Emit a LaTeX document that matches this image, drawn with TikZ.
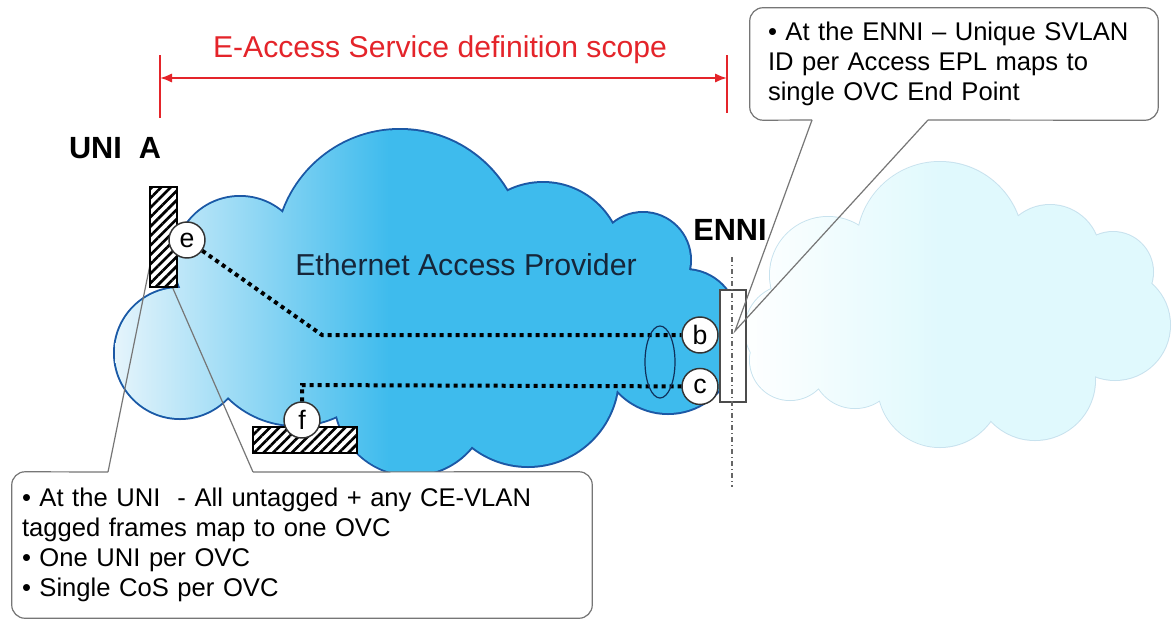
\documentclass[tikz,border=0pt]{standalone}
\usepackage{fontspec}
\setmainfont{Liberation Sans}
\usetikzlibrary{positioning,arrows.meta,patterns.meta}

\definecolor{cloudblue}{RGB}{62,187,237}
\definecolor{cloudpale}{RGB}{238,247,252}
\definecolor{cloudedge}{RGB}{28,88,165}
\definecolor{mistfill}{RGB}{224,249,253}
\definecolor{mistedge}{RGB}{200,226,238}
\definecolor{scopered}{RGB}{228,36,42}
\definecolor{notegray}{RGB}{118,118,118}
\definecolor{provtext}{RGB}{22,38,58}

\begin{document}
\begin{tikzpicture}[x=0.75pt, y=-0.75pt]
 \tikzstyle{port}=[circle, draw=black!80, line width=1.1pt, fill=white, minimum size=27pt, inner sep=0pt, font=\fontsize{20}{20}\selectfont]
 \tikzstyle{hatch}=[rectangle, draw=black, line width=0.9pt, inner sep=0pt, preaction={fill=white}, pattern={Lines[angle=45, distance=5pt, line width=2pt]}]
 \tikzstyle{enniport}=[rectangle, draw=black!70, line width=0.8pt, fill=white, inner sep=0pt, minimum width=19.5pt, minimum height=84pt]
 \tikzstyle{ovc}=[line width=3pt, dash pattern=on 3pt off 3pt, black]
 \tikzstyle{note}=[rectangle, rounded corners=10pt, fill=white, inner sep=0pt, align=left, font=\fontsize{19.2}{22.5}\selectfont]
 \tikzstyle{noteline}=[draw=notegray, line width=0.9pt]
 \tikzstyle{heading}=[font=\bfseries\fontsize{23}{23}\selectfont]
 \tikzstyle{provpuffs}=[insert path={(240,262) circle (65) (400,254) circle (124) (543,262) circle (79) (643,260) circle (47) (685,322) circle (52) (668,345) circle (68) (528,376) circle (90) (412,398) circle (77) (296,329) circle (96) (180,353) circle (65) (450,315) ellipse (200 and 95)}]
 \tikzstyle{mistpuffs}=[insert path={(828,275) circle (58) (940,245) circle (83) (1050,255) circle (50) (1113,272) circle (40) (1115,325) circle (55) (1035,380) circle (60) (940,385) circle (62) (855,365) circle (43) (790,360) circle (40) (790,330) circle (45) (955,320) ellipse (170 and 80)}]

 \useasboundingbox (0,0) rectangle (1172,622);
 \fill[white] (0,0) rectangle (1172,622);

 % the other network, pale
 \draw[mistedge, line width=1.5pt] [mistpuffs];
 \begin{scope}
 	\clip[mistpuffs];
 	\fill[mistfill] (740,150) rectangle (1172,460);
 	\shade[left color=white, right color=mistfill] (740,150) rectangle (940,460);
 \end{scope}

 % access provider cloud
 \draw[cloudedge, line width=3pt] [provpuffs];
 \begin{scope}
 	\clip[provpuffs];
 	\fill[cloudblue] (100,120) rectangle (760,490);
 	\shade[left color=cloudpale, right color=cloudblue] (100,120) rectangle (390,490);
 \end{scope}
 \node[font=\fontsize{22.7}{22.7}\selectfont, text=provtext] (provText) at (466,265) {Ethernet Access Provider};

 % UNI callout
 \node[note, minimum width=435pt, minimum height=109.5pt, text width=420pt] (uniNote) at (302,545) {• At the UNI\ \ - All untagged + any CE-VLAN\\ tagged frames map to one OVC\\ • One UNI per OVC\\ • Single CoS per OVC};
 \coordinate (uniBaseL) at (108,472);
 \coordinate (uniBaseR) at (253,472);
 \coordinate (uniTip) at (154,245);
 \draw[noteline, rounded corners=10pt] (uniBaseL) -- (uniNote.north west) -- (uniNote.south west) -- (uniNote.south east) -- (uniNote.north east) -- (uniBaseR);
 \draw[noteline] (uniBaseL) -- (uniTip) -- (uniBaseR);

 % ports
 \node[hatch, minimum width=20.25pt, minimum height=75pt] (uniPort) at (163.5,237) {};
 \node[hatch, minimum width=78pt, minimum height=19.5pt] (fPort) at (305,440) {};
 \node[enniport] (enniPort) at (733,346) {};
 \coordinate (enniTop) at (732,257);
 \coordinate (enniBot) at (732,487);
 \draw[black!60, line width=0.8pt, dash pattern=on 4pt off 2pt on 1pt off 2pt] (enniTop) -- (enniBot);

 \node[port] (e) at (187,240) {e};
 \node[port] (b) at (700,335) {b};
 \node[port, below=10.5pt of b] (c) {c};
 \node[port] (f) at (302,420) {f};
 \coordinate (kinkE) at (322,335);
 \coordinate (kinkF) at (302,385);
 \draw[ovc] (e) -- (kinkE) -- (b);
 \draw[ovc] (f) -- (kinkF) -- (c);
 \draw[black!45!cloudedge, line width=0.9pt] (660,362) ellipse (15 and 36);

 % ENNI callout
 \node[note, minimum width=306pt, minimum height=84pt, text width=279pt] (enniNote) at (954,64) {• At the ENNI – Unique SVLAN\\ ID per Access EPL maps to\\ single OVC End Point};
 \coordinate (enniBaseL) at (812,120);
 \coordinate (enniBaseR) at (928,120);
 \coordinate (enniTip) at (735,331);
 \draw[noteline, rounded corners=10pt] (enniBaseL) -- (enniNote.south west) -- (enniNote.north west) -- (enniNote.north east) -- (enniNote.south east) -- (enniBaseR);
 \draw[noteline] (enniBaseL) -- (enniTip) -- (enniBaseR);

 % labels
 \node[heading] (uniText) at (115,148) {UNI\ \ A};
 \node[heading] (enniText) at (730,230) {ENNI};

 % service scope
 \coordinate (scopeL) at (160,78);
 \coordinate (scopeR) at (727,78);
 \draw[scopered, line width=1.3pt] (160,55) -- (160,118) (727,55) -- (727,113);
 \draw[scopered, line width=1.5pt, {Latex[length=9pt,width=7pt]}-{Latex[length=9pt,width=7pt]}] (scopeL) -- (scopeR);
 \node[font=\fontsize{22.6}{22.6}\selectfont, text=scopered] (scopeText) at (440,50) {E-Access Service definition scope};
\end{tikzpicture}
\end{document}
